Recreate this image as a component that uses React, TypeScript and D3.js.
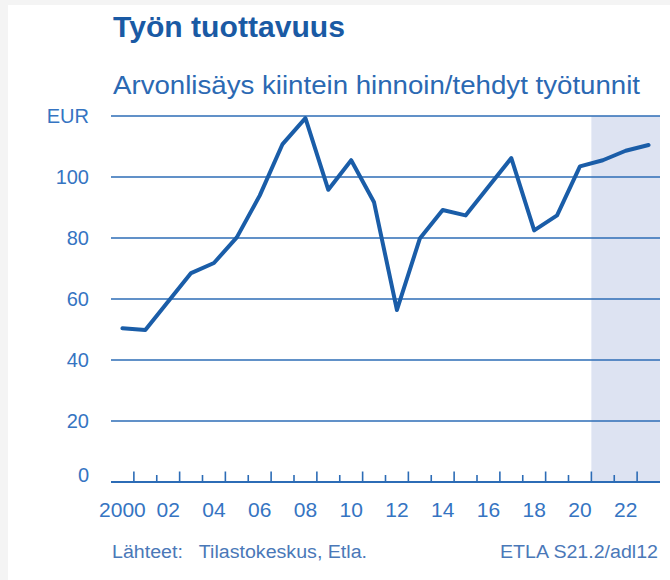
import React, { useEffect, useRef } from 'react';
import * as d3 from 'd3';

const years = d3.range(2000, 2024);
const productivity = [
  50.4, 49.8, 59.2, 68.5, 71.8, 80.2, 93.9, 110.8, 119.3, 95.8, 105.5, 91.7,
  56.4, 79.8, 89.2, 87.4, 96.8, 106.2, 82.5, 87.4, 103.5, 105.5, 108.6, 110.5
];
const yTicks = [0, 20, 40, 60, 80, 100, 120];
const yTickLabels = ['0', '20', '40', '60', '80', '100', 'EUR'];
const xLabelYears = [2000, 2002, 2004, 2006, 2008, 2010, 2012, 2014, 2016, 2018, 2020, 2022];
const xLabels = ['2000', '02', '04', '06', '08', '10', '12', '14', '16', '18', '20', '22'];
const forecastStart = 2021;

const FONT = "'Liberation Sans', Arial, sans-serif";

const ProductivityChart = () => {
  const ref = useRef<SVGSVGElement | null>(null);

  useEffect(() => {
    const width = 670;
    const height = 580;
    const left = 111;
    const right = 660;
    const top = 116;
    const bottom = 482;

    const svg = d3.select(ref.current);
    svg.selectAll('*').remove();

    // page frame
    svg.append('rect').attr('width', width).attr('height', height).attr('fill', '#f4f4f4');
    svg.append('rect').attr('x', 8).attr('y', 5).attr('width', width - 8).attr('height', height - 5).attr('fill', '#ffffff');

    const xScale = d3.scaleBand<number>().domain(years).range([left, right]).padding(0);
    const yScale = d3.scaleLinear().domain([0, 120]).range([bottom, top]);
    const bw = xScale.bandwidth();

    // forecast shading
    svg
      .append('rect')
      .attr('x', xScale(forecastStart))
      .attr('y', top)
      .attr('width', right - (xScale(forecastStart) as number))
      .attr('height', bottom - top)
      .attr('fill', '#dde3f2');

    // gridlines
    yTicks
      .filter((t) => t > 0)
      .forEach((t) => {
        svg
          .append('line')
          .attr('x1', left)
          .attr('x2', right)
          .attr('y1', yScale(t))
          .attr('y2', yScale(t))
          .attr('stroke', '#2c6cb6')
          .attr('stroke-width', 1.6);
      });

    // x axis line + ticks
    svg
      .append('line')
      .attr('x1', left)
      .attr('x2', right)
      .attr('y1', bottom)
      .attr('y2', bottom)
      .attr('stroke', '#2c6cb6')
      .attr('stroke-width', 2);

    years.slice(1).forEach((yr) => {
      const x = xScale(yr) as number;
      const tall = yr % 2 === 1;
      svg
        .append('line')
        .attr('x1', x)
        .attr('x2', x)
        .attr('y1', bottom)
        .attr('y2', bottom - (tall ? 10.5 : 7))
        .attr('stroke', '#2c6cb6')
        .attr('stroke-width', 1.6);
    });

    // y labels
    yTicks.forEach((t, i) => {
      svg
        .append('text')
        .attr('x', 89)
        .attr('y', t === 0 ? bottom : yScale(t))
        .attr('dy', t === 0 ? '0' : '0.36em')
        .attr('text-anchor', 'end')
        .attr('font-family', FONT)
        .attr('font-size', 20)
        .attr('fill', '#3574c2')
        .text(yTickLabels[i]);
    });

    // x labels
    xLabelYears.forEach((yr, i) => {
      svg
        .append('text')
        .attr('x', (xScale(yr) as number) + bw / 2)
        .attr('y', 517)
        .attr('text-anchor', 'middle')
        .attr('font-family', FONT)
        .attr('font-size', 21)
        .attr('fill', '#3574c2')
        .text(xLabels[i]);
    });

    // line
    const line = d3
      .line<number>()
      .x((_, i) => (xScale(years[i]) as number) + bw / 2)
      .y((d) => yScale(d));

    svg
      .append('path')
      .datum(productivity)
      .attr('d', line)
      .attr('fill', 'none')
      .attr('stroke', '#1a5da8')
      .attr('stroke-width', 4)
      .attr('stroke-linejoin', 'round')
      .attr('stroke-linecap', 'round');

    // titles
    svg
      .append('text')
      .attr('x', 113)
      .attr('y', 37)
      .attr('font-family', FONT)
      .attr('font-weight', 'bold')
      .attr('font-size', 29)
      .attr('fill', '#1a5aa4')
      .attr('textLength', 232)
      .attr('lengthAdjust', 'spacingAndGlyphs')
      .text('Työn tuottavuus');

    svg
      .append('text')
      .attr('x', 113)
      .attr('y', 94)
      .attr('font-family', FONT)
      .attr('font-size', 26)
      .attr('fill', '#2b69b3')
      .attr('textLength', 527)
      .attr('lengthAdjust', 'spacingAndGlyphs')
      .text('Arvonlisäys kiintein hinnoin/tehdyt työtunnit');

    // footer
    svg
      .append('text')
      .attr('x', 112)
      .attr('y', 558)
      .attr('font-family', FONT)
      .attr('font-size', 18)
      .attr('fill', '#4a78b8')
      .attr('textLength', 255)
      .attr('lengthAdjust', 'spacingAndGlyphs')
      .text('Lähteet:\u00a0\u00a0 Tilastokeskus, Etla.');

    svg
      .append('text')
      .attr('x', 500)
      .attr('y', 558)
      .attr('font-family', FONT)
      .attr('font-size', 18)
      .attr('fill', '#4a78b8')
      .attr('textLength', 158)
      .attr('lengthAdjust', 'spacingAndGlyphs')
      .text('ETLA S21.2/adl12');
  }, []);

  return (
    <svg
      ref={ref}
      width={670}
      height={580}
      style={{ position: 'absolute', left: 0, top: 0, display: 'block' }}
    />
  );
};

export default function App() {
  return <ProductivityChart />;
}
